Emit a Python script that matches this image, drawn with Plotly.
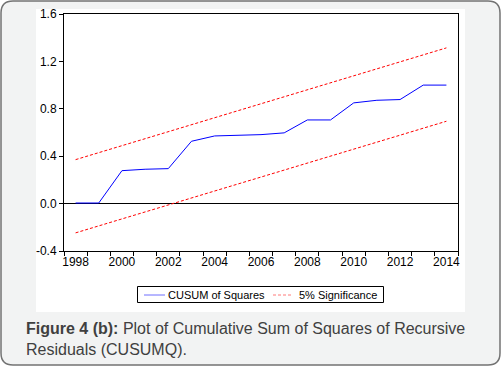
import plotly.graph_objects as go

years = [1998, 1999, 2000, 2001, 2002, 2003, 2004, 2005, 2006, 2007, 2008,
         2009, 2010, 2011, 2012, 2013, 2014]
cusum_sq = [0.005, 0.005, 0.278, 0.290, 0.295, 0.526, 0.571, 0.574, 0.582,
            0.597, 0.706, 0.706, 0.850, 0.872, 0.878, 1.000, 1.000]
upper_5 = [0.371, 0.430, 0.489, 0.548, 0.607, 0.666, 0.725, 0.784, 0.843,
           0.901, 0.960, 1.019, 1.078, 1.137, 1.196, 1.255, 1.314]
lower_5 = [-0.247, -0.188, -0.129, -0.070, -0.011, 0.048, 0.107, 0.166,
           0.225, 0.284, 0.343, 0.401, 0.460, 0.519, 0.578, 0.637, 0.695]
y_ticks = [-0.4, 0.0, 0.4, 0.8, 1.2, 1.6]
y_tick_text = ["-0.4", "0.0", "0.4", "0.8", "1.2", "1.6"]
x_label_years = [1998, 2000, 2002, 2004, 2006, 2008, 2010, 2012, 2014]
legend_names = ["CUSUM of Squares", "5% Significance"]

W, H = 502, 367
L, R, T, B = 64, 458, 14, 251  # plot area pixels


def px(x):
    return (x - L) / (R - L)


def py(y):
    return (B - y) / (B - T)


FONT = "Liberation Sans, Arial, sans-serif"

fig = go.Figure()
fig.add_trace(go.Scatter(x=years, y=cusum_sq, mode="lines", name=legend_names[0],
                         line=dict(color="#0000ff", width=1)))
fig.add_trace(go.Scatter(x=years, y=upper_5, mode="lines", name=legend_names[1],
                         line=dict(color="#ff0000", width=1, dash="3px,2px")))
fig.add_trace(go.Scatter(x=years, y=lower_5, mode="lines", name=legend_names[1],
                         line=dict(color="#ff0000", width=1, dash="3px,2px")))

# rounded outer card
x0, y0, x1, y1, r = 1, 1, 500, 365, 12
path = (f"M {px(x0+r)},{py(y0)} L {px(x1-r)},{py(y0)} "
        f"Q {px(x1)},{py(y0)} {px(x1)},{py(y0+r)} L {px(x1)},{py(y1-r)} "
        f"Q {px(x1)},{py(y1)} {px(x1-r)},{py(y1)} L {px(x0+r)},{py(y1)} "
        f"Q {px(x0)},{py(y1)} {px(x0)},{py(y1-r)} L {px(x0)},{py(y0+r)} "
        f"Q {px(x0)},{py(y0)} {px(x0+r)},{py(y0)} Z")
LY = 294.5  # legend centre line (px)
shapes = [
    dict(type="path", xref="paper", yref="paper", path=path, layer="below",
         fillcolor="#f2f3f3", line=dict(color="#737373", width=1.5)),
    dict(type="rect", xref="paper", yref="paper", x0=px(36), x1=px(465),
         y0=py(312), y1=py(9), layer="below", fillcolor="white",
         line=dict(width=0)),
    # legend box
    dict(type="rect", xref="paper", yref="paper", x0=px(137.5), x1=px(383.5),
         y0=py(302.5), y1=py(286.5), fillcolor="white",
         line=dict(color="black", width=1)),
    dict(type="line", xref="paper", yref="paper", x0=px(144), x1=px(165),
         y0=py(LY + 0.5), y1=py(LY + 0.5), line=dict(color="#6f6fff", width=1)),
    dict(type="line", xref="paper", yref="paper", x0=px(273), x1=px(293),
         y0=py(LY + 0.5), y1=py(LY + 0.5),
         line=dict(color="#ff7a7a", width=1, dash="3px,2px")),
]

annotations = [
    dict(xref="paper", yref="paper", x=px(24), y=py(318), xanchor="left",
         yanchor="top", align="left", showarrow=False,
         text="<b>Figure 4 (b):</b> Plot of Cumulative Sum of Squares of Recursive<br>Residuals (CUSUMQ).",
         font=dict(size=16, family=FONT, color="#404040")),
    dict(xref="paper", yref="paper", x=px(166), y=py(LY), xanchor="left",
         yanchor="middle", showarrow=False, text=legend_names[0],
         font=dict(size=11, family=FONT, color="black")),
    dict(xref="paper", yref="paper", x=px(297), y=py(LY), xanchor="left",
         yanchor="middle", showarrow=False, text=legend_names[1],
         font=dict(size=11, family=FONT, color="black")),
]

fig.update_layout(
    width=W, height=H,
    margin=dict(l=L, r=W - R, t=T, b=H - B, autoexpand=False),
    paper_bgcolor="white", plot_bgcolor="white",
    font=dict(family=FONT, color="black", size=12),
    shapes=shapes,
    showlegend=False,
    xaxis=dict(range=[1997.5, 2014.5], tickmode="array", tickvals=x_label_years,
               ticktext=[str(v) for v in x_label_years], ticks="",
               showline=True, mirror=True, linecolor="black", linewidth=1,
               showgrid=False, zeroline=False,
               tickfont=dict(size=12, family=FONT, color="black"),
               minor=dict(tickmode="linear", tick0=1997.5, dtick=1,
                          ticks="outside", ticklen=4, tickcolor="black",
                          tickwidth=1, showgrid=False)),
    yaxis=dict(range=[-0.4, 1.6], tickmode="array", tickvals=y_ticks,
               ticktext=y_tick_text, ticks="outside", ticklen=4,
               tickcolor="black", showline=True, mirror=True,
               linecolor="black", linewidth=1, showgrid=False,
               zeroline=True, zerolinecolor="black", zerolinewidth=1,
               tickfont=dict(size=12, family=FONT, color="black")),
    annotations=annotations,
)

fig.write_html("out.html", config={"displayModeBar": False},
               post_script="document.body.style.margin='0';document.body.style.overflow='hidden';")
